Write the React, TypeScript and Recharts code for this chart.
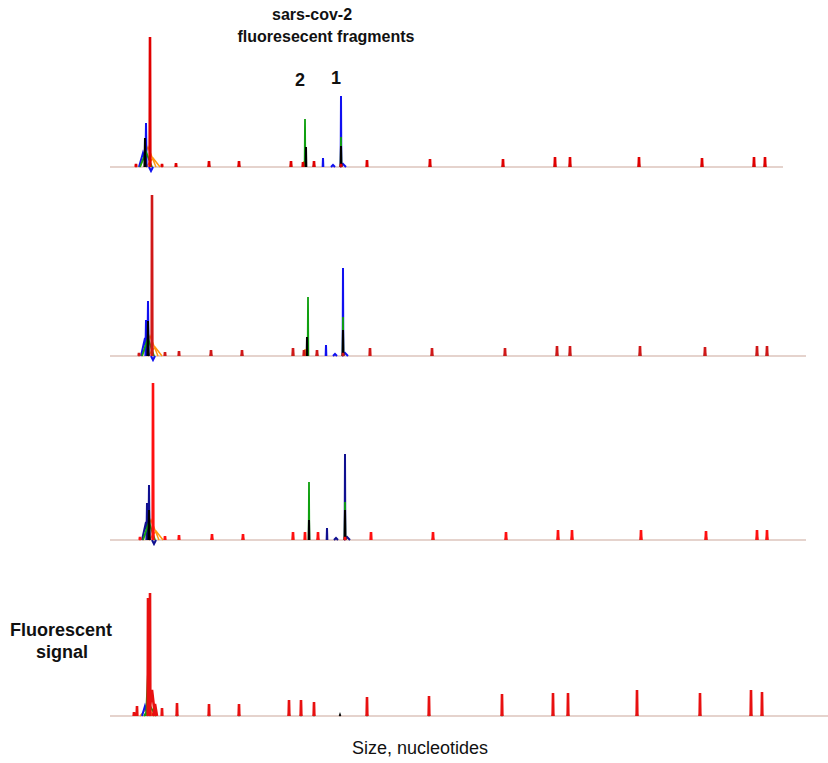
import { LineChart, Line, XAxis, YAxis, ReferenceLine } from "recharts";

// peaks: [scan position, signal height, half width]
type Peak = [number, number, number?];

const redP1: Peak[] = [[136, 3], [150, 130], [162, 3], [176, 4], [209, 6], [239, 6], [291, 6], [303, 5], [314, 6], [341, 3], [367, 7], [430, 8], [503, 8], [555, 10], [570, 10], [639, 10], [702, 9], [754, 10], [765, 10]];
const blueP1: Peak[] = [[143, 14, 4], [146, 44, 0.6], [151, -4, 2], [323, 9], [333, 2, 2], [341, 71], [343, 3, 3]];
const greenP1: Peak[] = [[146, 15, 6], [291, 5], [305, 48], [341, 30]];
const blackP1: Peak[] = [[145, 29, 0.6], [209, 3], [239, 3], [306, 20], [314, 3], [341, 21], [430, 3], [503, 3], [555, 4], [570, 4], [639, 4], [702, 4], [754, 4], [765, 4]];
const orangeP1: Peak[] = [[148, 20, 8], [153, 9, 7], [304, 6]];

const redP2: Peak[] = [[139, 3], [152, 161], [165, 4], [179, 5], [211, 6], [242, 6], [293, 8], [304, 6], [317, 6], [343, 3], [370, 8], [432, 8], [505, 8], [557, 10], [570, 10], [640, 10], [705, 9], [757, 10], [767, 10]];
const blueP2: Peak[] = [[145, 18, 4], [146, 36, 0.6], [148, 55, 0.6], [153, -4, 2], [326, 11], [335, 2, 2], [343, 88], [345, 3, 3]];
const greenP2: Peak[] = [[148, 18, 6], [293, 6], [308, 59], [343, 39]];
const blackP2: Peak[] = [[148, 35, 0.6], [211, 3], [242, 3], [307, 19], [317, 3], [343, 26], [432, 3], [505, 3], [557, 4], [570, 4], [640, 4], [705, 4], [757, 4], [767, 4]];
const orangeP2: Peak[] = [[150, 20, 8], [155, 9, 7], [305, 7]];

const redP3: Peak[] = [[140, 3], [153, 157], [165, 4], [179, 5], [212, 6], [243, 6], [293, 8], [305, 8], [318, 8], [345, 3], [371, 8], [433, 8], [506, 8], [558, 10], [572, 10], [641, 10], [706, 9], [757, 10], [767, 10]];
const blueP3: Peak[] = [[146, 18, 4], [147, 37, 0.6], [149, 55, 0.6], [154, -4, 2], [327, 12], [336, 2, 2], [345, 86], [347, 3, 3]];
const greenP3: Peak[] = [[149, 18, 6], [293, 6], [309, 58], [345, 38]];
const blackP3: Peak[] = [[149, 30, 0.6], [212, 3], [243, 3], [309, 20], [318, 3], [345, 30], [433, 3], [506, 3], [558, 4], [572, 4], [641, 4], [706, 4], [757, 4], [767, 4]];
const orangeP3: Peak[] = [[151, 20, 8], [156, 9, 7], [305, 8]];

const redP4: Peak[] = [[134, 4], [137, 10], [148, 118], [150, 123], [152, 26, 3], [155, 12, 2], [162, 8], [177, 13], [209, 12], [239, 12], [289, 16], [301, 16], [314, 14], [367, 19], [429, 20], [502, 22], [553, 23], [568, 23], [637, 26], [700, 23], [751, 26], [762, 24]];
const blueP4: Peak[] = [[145, 10, 3]];
const greenP4: Peak[] = [[148, 44, 2], [150, 10, 6]];
const blackP4: Peak[] = [[177, 2], [209, 2], [239, 2], [289, 3], [301, 2], [314, 2], [340, 1], [367, 2], [429, 2], [502, 2], [553, 3], [568, 3], [637, 3], [700, 3], [751, 3], [762, 3]];
const orangeP4: Peak[] = [[149, 45, 2], [147, 8, 7]];

// scan range of each trace's baseline
const baseRanges = [[110, 783], [110, 806], [110, 806], [110, 828]];
const baselines = [167, 356, 540, 716];

const panels = [
  { red: redP1, blue: blueP1, green: greenP1, black: blackP1, orange: orangeP1, blueColor: "#1010f0", redColor: "#e00000" },
  { red: redP2, blue: blueP2, green: greenP2, black: blackP2, orange: orangeP2, blueColor: "#1010f0", redColor: "#d01818" },
  { red: redP3, blue: blueP3, green: greenP3, black: blackP3, orange: orangeP3, blueColor: "#101090", redColor: "#ff1010" },
  { red: redP4, blue: blueP4, green: greenP4, black: blackP4, orange: orangeP4, blueColor: "#1010f0", redColor: "#e81010" },
];

function trace(peaks: Peak[]) {
  const pts: { x: number; y: number | null }[] = [];
  peaks.forEach(([pos, h, w = 0.35]) => {
    pts.push({ x: pos - w, y: 0 }, { x: pos, y: h }, { x: pos + w, y: 0 }, { x: pos + w + 0.3, y: null });
  });
  return pts;
}

const font = "Arial, 'Liberation Sans', sans-serif";

function Panel({ i }: { i: number }) {
  const p = panels[i];
  const H = 176;
  const series = [
    { d: p.orange, c: "#ff9a10", w: 1.5 },
    { d: p.blue, c: p.blueColor, w: 2 },
    { d: p.green, c: "#10a010", w: 1.8 },
    { d: p.black, c: "#000000", w: 2 },
    { d: p.red, c: p.redColor, w: 2.6 },
  ];
  const [x0, x1] = baseRanges[i];
  return (
    <div style={{ position: "absolute", left: 100, top: baselines[i] - 170 }}>
      <LineChart width={730} height={H} margin={{ top: 0, right: 0, bottom: 0, left: 0 }}>
        <XAxis type="number" dataKey="x" domain={[100, 830]} hide allowDataOverflow />
        <YAxis type="number" domain={[-6, 170]} hide allowDataOverflow />
        <ReferenceLine
          segment={[{ x: x0, y: 0 }, { x: x1, y: 0 }]}
          stroke="#dcc4bc"
          strokeWidth={1.5}
        />
        {series.map((s, k) => (
          <Line
            key={k}
            data={trace(s.d)}
            dataKey="y"
            type="linear"
            stroke={s.c}
            strokeWidth={s.w}
            dot={false}
            connectNulls={false}
            isAnimationActive={false}
          />
        ))}
      </LineChart>
    </div>
  );
}

export default function App() {
  const bold = { position: "absolute" as const, fontFamily: font, fontWeight: 700, color: "#111", whiteSpace: "nowrap" as const, transform: "translate(-50%, -50%)" };
  return (
    <div style={{ position: "absolute", left: 0, top: 0, width: 828, height: 763, background: "#fff", overflow: "hidden" }}>
      {[0, 1, 2, 3].map((i) => (
        <Panel key={i} i={i} />
      ))}
      <div style={{ ...bold, left: 312, top: 15, fontSize: 16 }}>sars-cov-2</div>
      <div style={{ ...bold, left: 326, top: 37, fontSize: 16 }}>fluoresecent fragments</div>
      <div style={{ ...bold, left: 300, top: 80, fontSize: 18 }}>2</div>
      <div style={{ ...bold, left: 336, top: 78, fontSize: 18 }}>1</div>
      <div style={{ ...bold, left: 61, top: 630, fontSize: 18 }}>Fluorescent</div>
      <div style={{ ...bold, left: 62, top: 652, fontSize: 18 }}>signal</div>
      <div style={{ ...bold, fontWeight: 400, left: 420, top: 748, fontSize: 18 }}>Size, nucleotides</div>
    </div>
  );
}
